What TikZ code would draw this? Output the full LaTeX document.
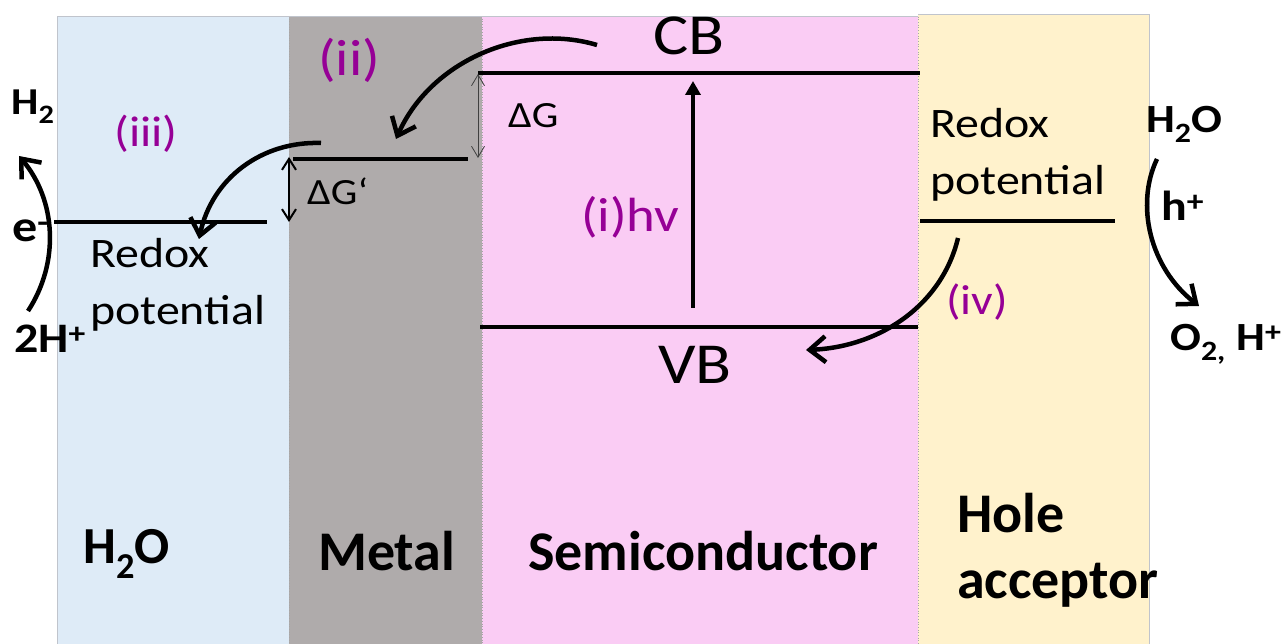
\documentclass[tikz,border=0pt]{standalone}
\usepackage{fontspec}
\setmainfont{Carlito}
\newfontfamily\widefam[FakeStretch=1.14]{Carlito}
\usetikzlibrary{arrows.meta}
\definecolor{cblue}{HTML}{DEEBF7}
\definecolor{cgray}{HTML}{AFABAB}
\definecolor{cpink}{HTML}{FACCF4}
\definecolor{ccream}{HTML}{FFF2CC}
\definecolor{cpurple}{RGB}{150,0,150}
\definecolor{cedge}{HTML}{C0C4CC}
\begin{document}
\begin{tikzpicture}[x=1pt,y=-1pt,
  panel/.style={draw=cedge,line width=0.7pt},
  level/.style={line width=3.5pt},
  flow/.style={line width=4.5pt,-{Straight Barb[length=16pt,width=26pt]}},
  gap/.style={line width=0.8pt,draw=black!75,{Straight Barb[length=11pt,width=13pt]}-{Straight Barb[length=11pt,width=13pt]}},
  gapb/.style={line width=2pt,{Straight Barb[length=11pt,width=14pt]}-{Straight Barb[length=11pt,width=14pt]}},
  txt/.style={inner sep=0pt,anchor=base west},
  big/.style={txt,font=\widefam\fontsize{58}{60}\selectfont},
  norm/.style={txt,font=\widefam\fontsize{42}{57}\selectfont,align=left},
  steplbl/.style={txt,text=cpurple},
  lbl/.style={txt,font=\bfseries\fontsize{56}{66}\selectfont,align=left},
  chem/.style={txt,font=\widefam\bfseries\fontsize{40}{46}\selectfont}
]
\useasboundingbox (0,0) rectangle (1283,644);
% panels
\fill[cblue] (57,16) rectangle (289,644);
\fill[cgray] (289,16) rectangle (482,644);
\fill[cpink] (482,16) rectangle (918,644);
\fill[ccream] (918,14) rectangle (1149,644);
\draw[panel] (57,644) -- (57,16) -- (289,16);
\draw[panel,draw=gray!70,dotted] (289,16) -- (289,644);
\draw[panel] (289,16) -- (482,16);
\draw[panel,draw=gray!70,dotted] (482,16) -- (482,644);
\draw[panel] (482,16) -- (918,16);
\draw[panel,draw=gray!70,dotted] (918,14) -- (918,644);
\draw[panel] (918,14) -- (1149,14) -- (1149,644);

% coordinates
\coordinate (cbL) at (478,73);  \coordinate (cbR) at (920,73);
\coordinate (vbL) at (480,327); \coordinate (vbR) at (918,327);
\coordinate (mL) at (293,159);  \coordinate (mR) at (468,159);
\coordinate (rlL) at (54,222);  \coordinate (rlR) at (267,222);
\coordinate (rrL) at (920,221); \coordinate (rrR) at (1115,221);
\coordinate (dgT) at (478,74);  \coordinate (dgB) at (478,158);
\coordinate (dpT) at (289,157); \coordinate (dpB) at (289,222);
\coordinate (hvB) at (693,308); \coordinate (hvT) at (693,81);
\coordinate (iiS) at (597,45);  \coordinate (iiE) at (396,139);
\coordinate (iiiS) at (321,143); \coordinate (iiiE) at (199,239);
\coordinate (ivS) at (958,238); \coordinate (ivE) at (806,350);
\coordinate (eS) at (28,311);   \coordinate (eE) at (19,156);
\coordinate (hS) at (1157,159); \coordinate (hE) at (1199,306);

% levels
\draw[level] (cbL) -- (cbR);
\draw[level] (vbL) -- (vbR);
\draw[level] (mL) -- (mR);
\draw[level] (rlL) -- (rlR);
\draw[level] (rrL) -- (rrR);

% gaps
\draw[gap] (dgT) -- (dgB);
\draw[gapb] (dpT) -- (dpB);

% excitation
\draw[line width=4pt,-{Triangle[length=14pt,width=15pt]}] (hvB) -- (hvT);

% curved flows
\draw[flow] (iiS) .. controls (520,22) and (430,62) .. (iiE);
\draw[flow] (iiiS) .. controls (262,141) and (212,178) .. (iiiE);
\draw[flow] (ivS) .. controls (942,305) and (880,347) .. (ivE);
\draw[flow] (eS) .. controls (60,262) and (56,200) .. (eE);
\draw[flow] (hS) .. controls (1135,205) and (1150,268) .. (hE);

% texts
\node[big] (cb) at (653,55) {CB};
\node[big] (vb) at (658,384) {VB};
\node[txt,font=\widefam\fontsize{37}{40}\selectfont] (dg) at (508,128) {ΔG};
\node[txt,font=\widefam\fontsize{37}{40}\selectfont] (dgp) at (307,205) {ΔG‘};
\node[steplbl,font=\widefam\fontsize{51}{55}\selectfont] (s2) at (318,76) {(ii)};
\node[steplbl,font=\widefam\fontsize{43}{50}\selectfont] (s3) at (114,147) {(iii)};
\node[steplbl,font=\widefam\fontsize{48}{50}\selectfont] (s1) at (581,232) {(i)hv};
\node[steplbl,font=\widefam\fontsize{42}{50}\selectfont] (s4) at (946,315) {(iv)};
\node[norm] (redL) at (90,325) {Redox\\potential};
\node[norm] (redR) at (930,195) {Redox\\potential};
\node[chem,font=\widefam\bfseries\fontsize{38}{40}\selectfont] (h2) at (11,115) {H\textsubscript{2}};
\node[chem,font=\widefam\bfseries\fontsize{44}{50}\selectfont] (em) at (12,242) {e\textsuperscript{-}};
\node[chem,font=\widefam\bfseries\fontsize{42}{50}\selectfont] (hp) at (14,353) {2H\textsuperscript{+}};
\node[chem] (h2o) at (1146,133) {H\textsubscript{2}O};
\node[chem,font=\widefam\bfseries\fontsize{42}{50}\selectfont] (hh) at (1161,221) {h\textsuperscript{+}};
\node[chem] (o2) at (1170,351) {O\textsubscript{2,} H\textsuperscript{+}};
\node[lbl,font=\bfseries\fontsize{52}{60}\selectfont] (lw) at (83,563) {H\textsubscript{2}O};
\node[lbl] (lm) at (318,570) {Metal};
\node[lbl] (ls) at (528,570) {Semiconductor};
\node[lbl] (lh) at (957,598) {Hole\\acceptor};
\end{tikzpicture}
\end{document}
